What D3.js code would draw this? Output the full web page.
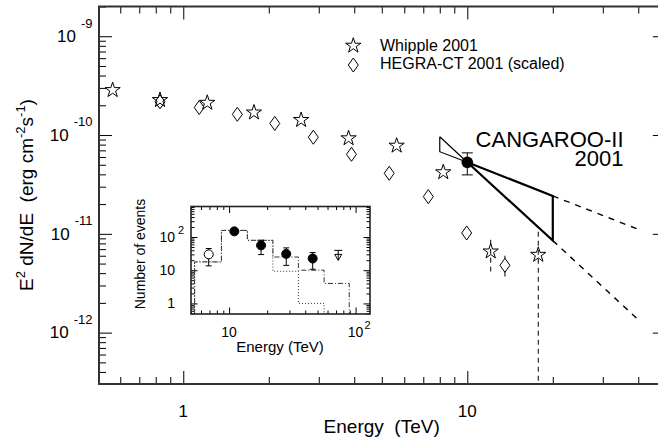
<!DOCTYPE html>
<html>
<head>
<meta charset="utf-8">
<script src="https://cdn.jsdelivr.net/npm/d3@7"></script>
<style>
body { margin: 0; background: #fff; }
text { font-family: "Liberation Sans", Arial, sans-serif; fill: #000; }
</style>
</head>
<body>
<div id="chart"></div>
<script>
// Whipple 2001 (stars), E in TeV, E^2 dN/dE in erg cm-2 s-1
const whippleE = [0.564, 0.828, 1.215, 1.774, 2.60, 3.82, 5.64, 8.23, 12.09, 17.78];
const whippleF = [2.85e-10, 2.26e-10, 2.12e-10, 1.69e-10, 1.42e-10, 9.27e-11, 7.8e-11, 4.2e-11, 6.63e-12, 6.13e-12];
const whippleErrE = [12.09, 17.78];
const whippleErrHi = [8.7e-12, 1.05e-11];
const whippleErrLo = [4.16e-12, 2e-13];

// HEGRA-CT 2001 scaled (diamonds)
const hegraE = [0.828, 1.138, 1.55, 2.10, 2.87, 3.91, 5.31, 7.29, 9.95, 13.57];
const hegraF = [2.17e-10, 1.9e-10, 1.62e-10, 1.31e-10, 9.5e-11, 6.38e-11, 4.1e-11, 2.38e-11, 1.02e-11, 4.8e-12];
const hegraErrE = [13.57];
const hegraErrHi = [6e-12];
const hegraErrLo = [3.7e-12];

// CANGAROO-II 2001
const cangE = [10.0];
const cangF = [5.3e-11];
const cangHi = [6.6e-11];
const cangLo = [3.95e-11];
const bflyE = [8, 10, 20];
const bflySteep = [9.6e-11, 5.3e-11, 8.55e-12];
const bflyFlat = [6.78e-11, 5.3e-11, 2.42e-11];
const extE = [20, 40];
const extSteep = [8.55e-12, 1.35e-12];
const extFlat = [2.42e-11, 1.11e-11];

const xMajor = [1, 10];
const xMajorLabels = ["1", "10"];
const yMajorExp = [-9, -10, -11, -12];

// inset: number of events
const insE = [6.9, 11.0, 17.9, 28.3, 45.8];
const insN = [30, 148, 56, 31, 22.5];
const insHi = [45, 165, 80, 47, 34];
const insLo = [13.5, 132, 29.6, 14, 10.7];
const insOpen = [true, false, false, false, false];
const insUlE = [72.9];
const insUlN = [28];
const histEdges = [5.34, 8.7, 13.95, 22.2, 35.3, 56.4, 89.1];
const histDashDot = [17.8, 158, 79.5, 25, 10, 4];
const histDotted = [17.8, 158, 79.5, 9.3, 1];
const insXMajor = [10, 100];
const insYMajor = [1, 10, 100];

const width = 658, height = 443;
const svg = d3.select("#chart").append("svg").attr("width", width).attr("height", height);

let x = d3.scaleLog().domain([0.505, 50]).range([99, 665.8]);
let y = d3.scaleLog().domain([3.02e-13, 2e-9]).range([384, 6.5]);

svg.append("clipPath").attr("id", "plotclip")
    .append("rect").attr("x", 99).attr("y", 6.5).attr("width", 566.8).attr("height", 377.5);

// axes: minor + major ticks on all four sides, pointing inward
const isMajor = v => Math.abs(Math.log10(v) - Math.round(Math.log10(v))) < 1e-6;
const xMinor = x.ticks().filter(v => !isMajor(v));
const yMinor = y.ticks().filter(v => !isMajor(v));
const yMajorVals = yMajorExp.map(e => Math.pow(10, e));

function addAxis(axis, tx, ty) {
    let g = svg.append("g").attr("transform", `translate(${tx},${ty})`).call(axis);
    g.select(".domain").remove();
    g.selectAll("text").remove();
    g.selectAll("line").attr("stroke", "#000").attr("stroke-width", 1);
    return g;
}
addAxis(d3.axisBottom(x).tickValues(xMinor).tickSize(-7).tickSizeOuter(0), 0, 384);
addAxis(d3.axisBottom(x).tickValues(xMajor).tickSize(-13).tickSizeOuter(0), 0, 384);
addAxis(d3.axisTop(x).tickValues(xMinor).tickSize(-7).tickSizeOuter(0), 0, 6.5);
addAxis(d3.axisTop(x).tickValues(xMajor).tickSize(-13).tickSizeOuter(0), 0, 6.5);
addAxis(d3.axisLeft(y).tickValues(yMinor).tickSize(-7).tickSizeOuter(0), 99, 0);
addAxis(d3.axisLeft(y).tickValues(yMajorVals).tickSize(-13).tickSizeOuter(0), 99, 0);
addAxis(d3.axisRight(y).tickValues(yMinor).tickSize(-7).tickSizeOuter(0), 665.8, 0);
addAxis(d3.axisRight(y).tickValues(yMajorVals).tickSize(-13).tickSizeOuter(0), 665.8, 0);

svg.append("rect")
    .attr("x", 99).attr("y", 6.5).attr("width", 566.8).attr("height", 377.5)
    .attr("fill", "none").attr("stroke", "#333").attr("stroke-width", 2);

// tick labels
xMajor.forEach((v, i) => {
    svg.append("text").attr("x", x(v)).attr("y", 416.7)
        .attr("text-anchor", "middle").attr("font-size", "17px").text(xMajorLabels[i]);
});
yMajorExp.forEach(e => {
    let t = svg.append("text").attr("x", 92.5).attr("y", y(Math.pow(10, e)) + 5.7)
        .attr("text-anchor", "end").attr("font-size", "17px");
    t.append("tspan").text("10");
    t.append("tspan").attr("dx", 5).attr("dy", -14.4).attr("font-size", "13px").text(e);
});

// axis titles
svg.append("text").attr("x", 381.7).attr("y", 433).attr("text-anchor", "middle")
    .attr("font-size", "19px").style("white-space", "pre").text("Energy  (TeV)");
let yt = svg.append("text").attr("transform", "translate(33,195) rotate(-90)")
    .attr("text-anchor", "middle").attr("font-size", "19px").style("white-space", "pre");
yt.append("tspan").text("E");
yt.append("tspan").attr("dy", -8).attr("font-size", "13px").text("2");
yt.append("tspan").attr("dy", 8).text(" dN/dE  (erg cm");
yt.append("tspan").attr("dy", -8).attr("font-size", "13px").text("-2");
yt.append("tspan").attr("dy", 8).text("s");
yt.append("tspan").attr("dy", -8).attr("font-size", "13px").text("-1");
yt.append("tspan").attr("dy", 8).text(")");

const plot = svg.append("g").attr("clip-path", "url(#plotclip)");
const star = d3.symbol().type(d3.symbolStar).size(72);
const diamond = "M0,-7L5,0L0,7L-5,0Z";

// error bars (dashed for Whipple)
plot.selectAll(".werr").data(whippleErrE).enter().append("line")
    .attr("x1", d => x(d)).attr("x2", d => x(d))
    .attr("y1", (d, i) => y(whippleErrHi[i])).attr("y2", (d, i) => y(whippleErrLo[i]))
    .attr("stroke", "#000").attr("stroke-dasharray", "5,4");
plot.selectAll(".herr").data(hegraErrE).enter().append("line")
    .attr("x1", d => x(d)).attr("x2", d => x(d))
    .attr("y1", (d, i) => y(hegraErrHi[i])).attr("y2", (d, i) => y(hegraErrLo[i]))
    .attr("stroke", "#000");

plot.selectAll(".hegra").data(hegraE).enter().append("path")
    .attr("d", diamond)
    .attr("transform", (d, i) => `translate(${x(d)},${y(hegraF[i])})`)
    .attr("fill", "#fff").attr("stroke", "#000").attr("stroke-width", 1);
plot.selectAll(".whip").data(whippleE).enter().append("path")
    .attr("d", star)
    .attr("transform", (d, i) => `translate(${x(d)},${y(whippleF[i])}) `)
    .attr("fill", "none").attr("stroke", "#000").attr("stroke-width", 1);

// CANGAROO butterfly
let line = d3.line().x(d => x(d[0])).y(d => y(d[1]));
let leftPart = [[bflyE[0], bflySteep[0]], [bflyE[1], bflySteep[1]]];
plot.append("path").attr("d", line([[bflyE[0], bflySteep[0]], [bflyE[0], bflyFlat[0]], [bflyE[1], bflyFlat[1]]]) + line(leftPart).replace("M", "M"))
    .attr("fill", "none").attr("stroke", "#000").attr("stroke-width", 1.2);
plot.append("path").attr("d", line([[bflyE[1], bflySteep[1]], [bflyE[2], bflySteep[2]], [bflyE[2], bflyFlat[2]], [bflyE[1], bflyFlat[1]]]))
    .attr("fill", "none").attr("stroke", "#000").attr("stroke-width", 2.2);
plot.append("path").attr("d", line(extE.map((e, i) => [e, extSteep[i]])))
    .attr("fill", "none").attr("stroke", "#000").attr("stroke-width", 1.4).attr("stroke-dasharray", "6,6");
plot.append("path").attr("d", line(extE.map((e, i) => [e, extFlat[i]])))
    .attr("fill", "none").attr("stroke", "#000").attr("stroke-width", 1.4).attr("stroke-dasharray", "6,6");

cangE.forEach((e, i) => {
    plot.append("line").attr("x1", x(e)).attr("x2", x(e)).attr("y1", y(cangHi[i])).attr("y2", y(cangLo[i])).attr("stroke", "#000");
    [cangHi[i], cangLo[i]].forEach(v => {
        plot.append("line").attr("x1", x(e) - 5.5).attr("x2", x(e) + 5.5).attr("y1", y(v)).attr("y2", y(v)).attr("stroke", "#000");
    });
    plot.append("circle").attr("cx", x(e)).attr("cy", y(cangF[i])).attr("r", 5.8).attr("fill", "#000");
});

svg.append("text").attr("x", 623.5).attr("y", 146.5).attr("text-anchor", "end").attr("font-size", "22px").text("CANGAROO-II");
svg.append("text").attr("x", 623.5).attr("y", 165.7).attr("text-anchor", "end").attr("font-size", "22px").text("2001");

// legend
svg.append("path").attr("d", star).attr("transform", "translate(353.3,45.7)").attr("fill", "none").attr("stroke", "#000");
svg.append("path").attr("d", diamond).attr("transform", "translate(353.3,65)").attr("fill", "none").attr("stroke", "#000");
svg.append("text").attr("x", 380).attr("y", 50.7).attr("font-size", "16px").text("Whipple 2001");
svg.append("text").attr("x", 380).attr("y", 69).attr("font-size", "16px").text("HEGRA-CT 2001 (scaled)");

// ---- inset ----
let xi = d3.scaleLog().domain([5, 130]).range([191, 370]);
let yi = d3.scaleLog().domain([0.48, 830]).range([314, 206.5]);
const xiMinor = xi.ticks().filter(v => !isMajor(v));
const yiMinor = yi.ticks().filter(v => !isMajor(v));
addAxis(d3.axisBottom(xi).tickValues(xiMinor).tickSize(-3.5).tickSizeOuter(0), 0, 314);
addAxis(d3.axisBottom(xi).tickValues(insXMajor).tickSize(-6.5).tickSizeOuter(0), 0, 314);
addAxis(d3.axisTop(xi).tickValues(xiMinor).tickSize(-3.5).tickSizeOuter(0), 0, 206.5);
addAxis(d3.axisTop(xi).tickValues(insXMajor).tickSize(-6.5).tickSizeOuter(0), 0, 206.5);
addAxis(d3.axisLeft(yi).tickValues(yiMinor).tickSize(-3.5).tickSizeOuter(0), 191, 0);
addAxis(d3.axisLeft(yi).tickValues(insYMajor).tickSize(-6.5).tickSizeOuter(0), 191, 0);
addAxis(d3.axisRight(yi).tickValues(yiMinor).tickSize(-3.5).tickSizeOuter(0), 370, 0);
addAxis(d3.axisRight(yi).tickValues(insYMajor).tickSize(-6.5).tickSizeOuter(0), 370, 0);
svg.append("rect").attr("x", 191).attr("y", 206.5).attr("width", 179).attr("height", 107.5)
    .attr("fill", "none").attr("stroke", "#222").attr("stroke-width", 1.6);

function histPoints(vals) {
    let pts = [[histEdges[0], 0.48]];
    vals.forEach((v, i) => { pts.push([histEdges[i], v]); pts.push([histEdges[i + 1], v]); });
    pts.push([histEdges[vals.length], 0.48]);
    return pts;
}
let iline = d3.line().x(d => xi(d[0])).y(d => yi(d[1]));
svg.append("path").attr("d", iline(histPoints(histDashDot)))
    .attr("fill", "none").attr("stroke", "#333").attr("stroke-width", 1).attr("stroke-dasharray", "5,2,1,2");
svg.append("path").attr("d", iline(histPoints(histDotted)))
    .attr("fill", "none").attr("stroke", "#333").attr("stroke-width", 1).attr("stroke-dasharray", "1,2");

insE.forEach((e, i) => {
    svg.append("line").attr("x1", xi(e)).attr("x2", xi(e)).attr("y1", yi(insHi[i])).attr("y2", yi(insLo[i])).attr("stroke", "#000");
    [insHi[i], insLo[i]].forEach(v => {
        svg.append("line").attr("x1", xi(e) - 3).attr("x2", xi(e) + 3).attr("y1", yi(v)).attr("y2", yi(v)).attr("stroke", "#000");
    });
    svg.append("circle").attr("cx", xi(e)).attr("cy", yi(insN[i])).attr("r", 4.5)
        .attr("fill", insOpen[i] ? "#fff" : "#000").attr("stroke", "#000");
});
insUlE.forEach((e, i) => {
    svg.append("path").attr("d", "M-4,-5L4,-5M0,-5L0,5M-3.5,-1L0,5L3.5,-1Z")
        .attr("transform", `translate(${xi(e)},${yi(insUlN[i])})`)
        .attr("fill", "none").attr("stroke", "#000");
});

// inset labels
insYMajor.forEach(v => {
    svg.append("text").attr("x", 175).attr("y", yi(v) + 5).attr("text-anchor", "end")
        .attr("font-size", "14px").text(v === 1 ? "1" : "10");
    if (v === 100) svg.append("text").attr("x", 178).attr("y", yi(v) - 3).attr("font-size", "11px").text("2");
});
insXMajor.forEach(v => {
    svg.append("text").attr("x", xi(v)).attr("y", 336.7).attr("text-anchor", "middle")
        .attr("font-size", "14px").text("10");
    if (v === 100) svg.append("text").attr("x", xi(v) + 9).attr("y", 328.7).attr("font-size", "11px").text("2");
});
svg.append("text").attr("x", 280).attr("y", 352).attr("text-anchor", "middle").attr("font-size", "15px").text("Energy (TeV)");
svg.append("text").attr("transform", "translate(145,254) rotate(-90)").attr("text-anchor", "middle")
    .attr("font-size", "14px").text("Number of events");
</script>
</body>
</html>
